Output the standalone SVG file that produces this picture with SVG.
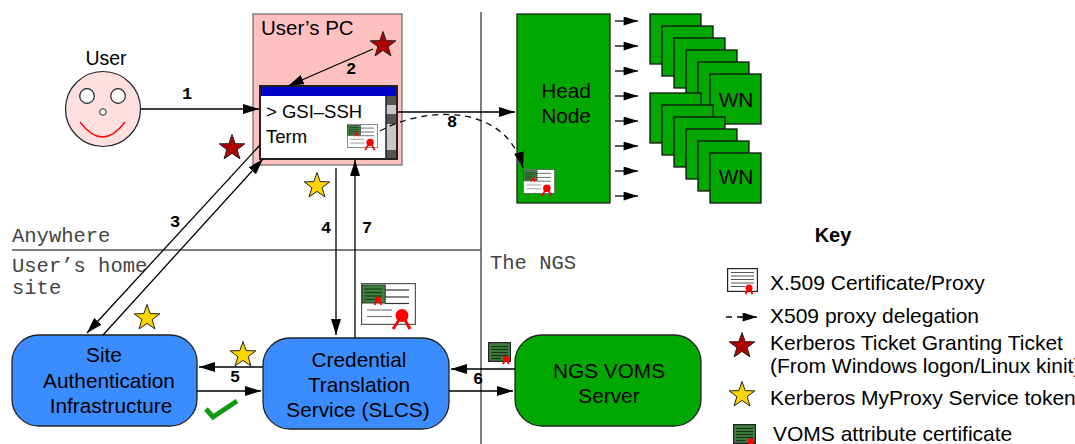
<svg xmlns="http://www.w3.org/2000/svg" xmlns:xlink="http://www.w3.org/1999/xlink" width="1075" height="444" viewBox="0 0 1075 444">
  <style>
    .sans { font-family: "Liberation Sans", Arial, sans-serif; fill: #000; }
    .node-text { font-size: 20.8px; text-anchor: middle; }
    .key-text { font-size: 21px; }
    .zone { font-family: "Liberation Mono", "Courier New", monospace; font-size: 20.5px; fill: #444; }
    .step { font-family: "Liberation Mono", "Courier New", monospace; font-size: 17px; font-weight: bold; text-anchor: middle; fill: #000; }
    .conn { stroke: #000; stroke-width: 1.3; fill: none; }
    .dash { stroke: #000; stroke-width: 1.3; fill: none; stroke-dasharray: 6 5; }
    .divider { stroke: #555; stroke-width: 1.5; }
    .round-blue { fill: #3b8cff; stroke: #222; stroke-width: 1.3; }
    .green { fill: #00a800; stroke: #222; stroke-width: 1.3; }
    .wn { fill: #00a800; stroke: #111; stroke-width: 1.3; }
    .star-red { fill: #b00000; stroke: #222; stroke-width: 1; }
    .star-yellow { fill: #ffd500; stroke: #222; stroke-width: 1; }
  </style>
  <defs>
    <marker id="arrow" viewBox="0 0 16 10" markerWidth="16" markerHeight="10" markerUnits="userSpaceOnUse" refX="16" refY="5" orient="auto">
      <path d="M0,0 L16,5 L0,10 Z" fill="#000"/>
    </marker>
    <marker id="arrow-small" viewBox="0 0 16 10" markerWidth="15" markerHeight="9" markerUnits="userSpaceOnUse" refX="16" refY="5" orient="auto">
      <path d="M0,0 L16,5 L0,10 Z" fill="#000"/>
    </marker>
    <path id="star" d="M0,-13.5 L3.18,-4.36 L12.84,-4.17 L5.14,1.66 L7.94,10.93 L0,5.4 L-7.94,10.93 L-5.14,1.66 L-12.84,-4.17 L-3.18,-4.36 Z"/>
    <!-- proxy certificate with embedded VOMS attribute certificate -->
    <symbol id="cert" viewBox="0 0 55 42" overflow="visible">
      <rect x="0.6" y="0.6" width="53.8" height="40.8" fill="#fff" stroke="#555" stroke-width="1.2"/>
      <rect x="1.2" y="2" width="23" height="18" fill="#3f7f3f" stroke="#333" stroke-width="1"/>
      <g stroke="#1a3f1a" stroke-width="1.2">
        <line x1="3.5" y1="6" x2="21" y2="6"/>
        <line x1="3.5" y1="9.5" x2="21" y2="9.5"/>
        <line x1="3.5" y1="13" x2="21" y2="13"/>
        <line x1="3.5" y1="16.5" x2="14" y2="16.5"/>
      </g>
      <circle cx="17" cy="16.5" r="3" fill="#f00"/>
      <path d="M15.5,18 L13.5,22 M18.5,18 L20.5,22" stroke="#f00" stroke-width="1.8"/>
      <g stroke="#333" stroke-width="1.2">
        <line x1="24" y1="7" x2="48" y2="7"/>
        <line x1="24" y1="14" x2="48" y2="14"/>
        <line x1="24" y1="20.5" x2="48" y2="20.5"/>
      </g>
      <g stroke="#777" stroke-width="1.2">
        <line x1="6" y1="27" x2="31" y2="27"/>
        <line x1="6" y1="33.5" x2="31" y2="33.5"/>
      </g>
      <circle cx="41" cy="32.5" r="6.5" fill="#f00"/>
      <path d="M38,37 L32,46 M44,37 L49,46" stroke="#f00" stroke-width="3"/>
    </symbol>
    <!-- plain X.509 certificate -->
    <symbol id="cert-plain" viewBox="0 0 31 24" overflow="visible">
      <rect x="0.6" y="0.6" width="29.8" height="22.8" fill="#fff" stroke="#222" stroke-width="1.2"/>
      <g stroke="#555" stroke-width="1">
        <line x1="4" y1="4.5" x2="27" y2="4.5"/>
        <line x1="4" y1="8" x2="27" y2="8"/>
        <line x1="4" y1="11.5" x2="27" y2="11.5"/>
        <line x1="4" y1="15" x2="27" y2="15"/>
        <line x1="4" y1="18.5" x2="18" y2="18.5"/>
      </g>
      <circle cx="22" cy="20" r="3.5" fill="#f00"/>
      <path d="M20.5,22 L18.5,26 M23.5,22 L25.5,26" stroke="#f00" stroke-width="2"/>
    </symbol>
    <!-- VOMS attribute certificate -->
    <symbol id="cert-voms" viewBox="0 0 23 20" overflow="visible">
      <rect x="0.6" y="0.6" width="21.8" height="18.8" fill="#3f7f3f" stroke="#222" stroke-width="1.2"/>
      <g stroke="#143314" stroke-width="1.2">
        <line x1="3" y1="4.5" x2="20" y2="4.5"/>
        <line x1="3" y1="7.5" x2="20" y2="7.5"/>
        <line x1="3" y1="10.5" x2="20" y2="10.5"/>
        <line x1="3" y1="13.5" x2="20" y2="13.5"/>
        <line x1="3" y1="16.5" x2="13" y2="16.5"/>
      </g>
      <circle cx="18" cy="17" r="3" fill="#f00"/>
      <path d="M16.5,19 L15,22 M19.5,19 L21,22" stroke="#f00" stroke-width="1.8"/>
    </symbol>
  </defs>

  <rect width="1075" height="444" fill="#fff"/>

  <!-- zone dividers -->
  <g id="zones">
    <line class="divider" x1="481" y1="12" x2="481" y2="444"/>
    <line class="divider" x1="12" y1="250" x2="481" y2="250"/>
    <text class="zone" x="12" y="242">Anywhere</text>
    <text class="zone" x="12" y="272">User’s home</text>
    <text class="zone" x="12" y="294">site</text>
    <text class="zone" x="490" y="269">The NGS</text>
  </g>

  <!-- user -->
  <g id="user">
    <text class="sans" x="106" y="65" font-size="19.5" text-anchor="middle">User</text>
    <circle cx="103" cy="109" r="37.5" fill="#ffe0e0" stroke="#222" stroke-width="1.2"/>
    <circle cx="87" cy="96" r="7.3" fill="#fff" stroke="#222" stroke-width="1.2"/>
    <circle cx="118" cy="96" r="7.3" fill="#fff" stroke="#222" stroke-width="1.2"/>
    <circle cx="103" cy="112" r="3.3" fill="#fff" stroke="#222" stroke-width="1"/>
    <path d="M80,122 Q102.5,152 125,122" fill="none" stroke="#f00" stroke-width="1.3"/>
  </g>

  <!-- user's PC with GSI-SSH terminal -->
  <g id="users-pc">
    <rect x="253" y="14" width="149" height="151" fill="#ffc0c0" stroke="#666" stroke-width="1.2"/>
    <text class="sans" x="261" y="35" font-size="20.5">User’s PC</text>
    <use href="#star" class="star-red" x="383" y="45"/>
  </g>
  <g id="terminal">
    <rect x="260" y="86" width="137" height="73" fill="#fff"/>
    <rect x="260" y="86" width="137" height="10" fill="#0000c8"/>
    <rect x="386" y="96" width="11" height="63" fill="#c8c8c8"/>
    <rect x="386" y="96" width="11" height="9" fill="#555"/>
    <rect x="386" y="114" width="11" height="10" fill="#555"/>
    <rect x="386" y="150" width="11" height="9" fill="#555"/>
    <line x1="386" y1="96" x2="386" y2="159" stroke="#222" stroke-width="1.5"/>
    <rect x="260" y="86" width="137" height="73" fill="none" stroke="#222" stroke-width="2"/>
    <text class="sans" x="266" y="118" font-size="18.5">&gt; GSI–SSH</text>
    <text class="sans" x="266" y="143" font-size="18.5">Term</text>
    <use href="#cert" x="347" y="124" width="31" height="24"/>
  </g>

  <!-- head node -->
  <g id="head-node">
    <rect class="green" x="517" y="14" width="93" height="189"/>
    <text class="sans node-text" x="566" y="98">Head</text>
    <text class="sans node-text" x="566" y="123">Node</text>
    <use href="#cert" x="523" y="169" width="32" height="25"/>
  </g>

  <!-- worker nodes -->
  <g id="wn-stack-1">
    <rect class="wn" x="650" y="14" width="51" height="50"/>
    <rect class="wn" x="662" y="26" width="51" height="50"/>
    <rect class="wn" x="674" y="38" width="51" height="50"/>
    <rect class="wn" x="686" y="50" width="51" height="50"/>
    <rect class="wn" x="698" y="62" width="51" height="50"/>
    <rect class="wn" x="710" y="74" width="51" height="50"/>
    <text class="sans node-text" x="736" y="107">WN</text>
  </g>
  <g id="wn-stack-2">
    <rect class="wn" x="650" y="93" width="51" height="50"/>
    <rect class="wn" x="662" y="105" width="51" height="50"/>
    <rect class="wn" x="674" y="117" width="51" height="50"/>
    <rect class="wn" x="686" y="129" width="51" height="50"/>
    <rect class="wn" x="698" y="141" width="51" height="50"/>
    <rect class="wn" x="710" y="153" width="51" height="50"/>
    <text class="sans node-text" x="736" y="184">WN</text>
  </g>

  <!-- site authentication infrastructure -->
  <g id="site-auth">
    <rect class="round-blue" x="12" y="335" width="185" height="91" rx="27"/>
    <text class="sans node-text" x="104" y="362">Site</text>
    <text class="sans node-text" x="109" y="388">Authentication</text>
    <text class="sans node-text" x="111" y="413">Infrastructure</text>
  </g>

  <!-- credential translation service -->
  <g id="slcs">
    <rect class="round-blue" x="263" y="338" width="186" height="91" rx="27"/>
    <text class="sans node-text" x="359" y="367">Credential</text>
    <text class="sans node-text" x="359" y="392">Translation</text>
    <text class="sans node-text" x="358" y="417">Service (SLCS)</text>
  </g>

  <!-- VOMS server -->
  <g id="voms-server">
    <rect class="green" x="515" y="335" width="186" height="91" rx="27"/>
    <text class="sans node-text" x="609" y="378">NGS VOMS</text>
    <text class="sans node-text" x="609" y="403">Server</text>
  </g>

  <!-- tokens and credentials carried along the connectors -->
  <g id="tokens">
    <use href="#star" class="star-red" x="232" y="148"/>
    <use href="#star" class="star-yellow" x="147" y="318"/>
    <use href="#star" class="star-yellow" x="317" y="186"/>
    <use href="#star" class="star-yellow" x="243" y="355"/>
    <use href="#cert" x="361" y="283" width="55" height="42"/>
    <use href="#cert-voms" x="488" y="342" width="23" height="20"/>
    <path d="M206,409 L213,417 L237,401" fill="none" stroke="#119911" stroke-width="5"/>
  </g>

  <!-- connectors -->
  <g id="connectors">
    <line class="conn" x1="141" y1="109" x2="259" y2="109" marker-end="url(#arrow)"/>
    <line class="conn" x1="373" y1="49" x2="288" y2="86" marker-end="url(#arrow)"/>
    <line class="conn" x1="260" y1="145" x2="87" y2="333" marker-end="url(#arrow)"/>
    <line class="conn" x1="103" y1="335" x2="263" y2="159" marker-end="url(#arrow)"/>
    <line class="conn" x1="336" y1="168" x2="336" y2="335" marker-end="url(#arrow)"/>
    <line class="conn" x1="355" y1="338" x2="355" y2="160" marker-end="url(#arrow)"/>
    <line class="conn" x1="263" y1="367" x2="199" y2="367" marker-end="url(#arrow)"/>
    <line class="conn" x1="197" y1="391" x2="261" y2="391" marker-end="url(#arrow)"/>
    <line class="conn" x1="515" y1="369" x2="451" y2="369" marker-end="url(#arrow)"/>
    <line class="conn" x1="449" y1="391" x2="513" y2="391" marker-end="url(#arrow)"/>
    <line class="conn" x1="397" y1="112" x2="515" y2="112" marker-end="url(#arrow)"/>
    <path class="dash" d="M380,131 C420,108 505,100 523,168" marker-end="url(#arrow)"/>
    <g id="dispatch">
      <line class="conn" x1="615" y1="21" x2="638" y2="21" marker-end="url(#arrow-small)"/>
      <line class="conn" x1="615" y1="46" x2="638" y2="46" marker-end="url(#arrow-small)"/>
      <line class="conn" x1="615" y1="71" x2="638" y2="71" marker-end="url(#arrow-small)"/>
      <line class="conn" x1="615" y1="96" x2="638" y2="96" marker-end="url(#arrow-small)"/>
      <line class="conn" x1="615" y1="121" x2="638" y2="121" marker-end="url(#arrow-small)"/>
      <line class="conn" x1="615" y1="146" x2="638" y2="146" marker-end="url(#arrow-small)"/>
      <line class="conn" x1="615" y1="171" x2="638" y2="171" marker-end="url(#arrow-small)"/>
      <line class="conn" x1="615" y1="196" x2="638" y2="196" marker-end="url(#arrow-small)"/>
    </g>
    <text class="step" x="187" y="99">1</text>
    <text class="step" x="351" y="74">2</text>
    <text class="step" x="175" y="227">3</text>
    <text class="step" x="326" y="233">4</text>
    <text class="step" x="235" y="382">5</text>
    <text class="step" x="478" y="384">6</text>
    <text class="step" x="367" y="233">7</text>
    <text class="step" x="452" y="127">8</text>
  </g>

  <!-- legend -->
  <g id="key">
    <text class="sans" x="833" y="242" font-size="20" font-weight="bold" text-anchor="middle">Key</text>
    <use href="#cert-plain" x="727" y="268" width="31" height="24"/>
    <text class="sans key-text" x="770" y="290">X.509 Certificate/Proxy</text>
    <line class="dash" x1="726" y1="317" x2="742" y2="317" stroke-dasharray="4 3"/>
    <line class="conn" x1="740" y1="317" x2="757" y2="317" marker-end="url(#arrow-small)"/>
    <text class="sans key-text" x="770" y="323">X509 proxy delegation</text>
    <use href="#star" class="star-red" x="742" y="346"/>
    <text class="sans key-text" x="770" y="350">Kerberos Ticket Granting Ticket</text>
    <text class="sans key-text" x="770" y="373">(From Windows logon/Linux kinit)</text>
    <use href="#star" class="star-yellow" x="742" y="395"/>
    <text class="sans key-text" x="770" y="405">Kerberos MyProxy Service token</text>
    <use href="#cert-voms" x="733" y="424" width="23" height="20"/>
    <text class="sans key-text" x="773" y="441">VOMS attribute certificate</text>
  </g>
</svg>
